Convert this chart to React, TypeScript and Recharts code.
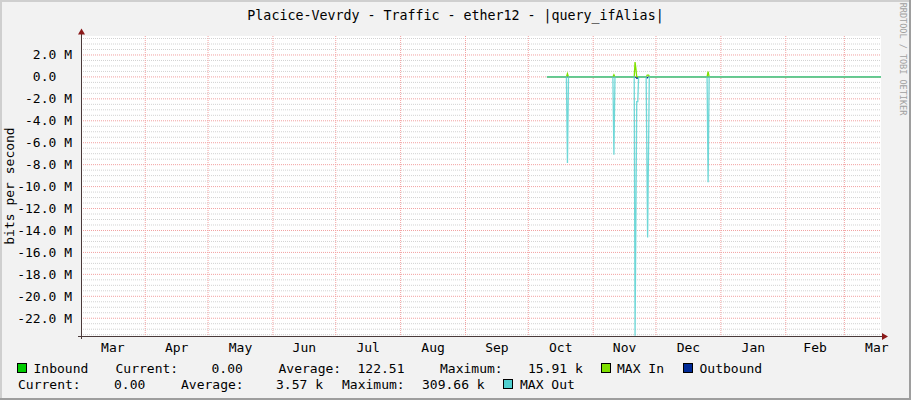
import React from "react";
import { ComposedChart, Line, Area, XAxis, YAxis, CartesianGrid } from "recharts";

const W = 911;
const H = 400;
const PLOT_LEFT = 81;
const PLOT_RIGHT = 881;
const PLOT_TOP = 36;
const PLOT_BOTTOM = 336;
const X_AXIS_H = 20;
const MONO = "'DejaVu Sans Mono', monospace";

// time axis in days, counted from 1 Apr (first red month line)
const MONTH_NAMES = ["Mar", "Apr", "May", "Jun", "Jul", "Aug", "Sep", "Oct", "Nov", "Dec", "Jan", "Feb", "Mar"];
const MONTH_LABEL_DAYS = [-15.5, 15, 45.5, 76, 106.5, 137.5, 168, 198.5, 229, 259.5, 290.5, 320, 349.5];
const MONTH_START_DAYS = [0, 30, 61, 91, 122, 153, 183, 214, 244, 275, 306, 334];
const X_DOMAIN = [-30.7, 351.5];

// bits per second in millions, outbound drawn below zero
const Y_TICKS = [2, 0, -2, -4, -6, -8, -10, -12, -14, -16, -18, -20, -22];
const Y_DOMAIN = [-23.62, 3.73];

const INBOUND_DAYS = [191.9, 351.5];
const INBOUND = [0, 0];

const MAX_IN_DAYS = [191.9, 201.2, 201.7, 202.2, 223.4, 223.9, 224.4, 233.6, 234.0, 234.4, 234.8, 239.4, 239.8, 240.5, 240.9, 268.4, 268.9, 269.4, 351.5];
const MAX_IN = [0, 0, 0.3, 0, 0, 0.2, 0, 0, 1.35, 0.75, 0, 0, 0.17, 0.17, 0, 0, 0.48, 0, 0];

const OUTBOUND_DAYS = [191.9, 234.2, 234.6, 235.3, 235.6, 239.5, 239.8, 240.1, 351.5];
const OUTBOUND = [0, 0, -0.13, -0.13, 0, 0, -0.13, 0, 0];

const MAX_OUT_DAYS = [191.9, 201.2, 201.7, 202.2, 223.4, 223.9, 224.4, 233.6, 234.0, 234.8, 235.3, 235.7, 239.3, 240.0, 240.8, 268.4, 268.9, 269.4, 351.5];
const MAX_OUT = [0, 0, -7.85, 0, 0, -7.1, 0, 0, -23.6, -2.25, -2.25, 0, 0, -14.65, 0, 0, -9.6, 0, 0];

const COLORS = {
  inbound: "#00CC00",
  maxIn: "#7FE000",
  outbound: "#002A97",
  maxOut: "#50D0D0",
};

// minor grid every 0.5 M between the labelled lines
const MINOR_Y: number[] = [];
for (let v = 3.5; v > Y_DOMAIN[0]; v -= 0.5) {
  if (v % 2 !== 0) MINOR_Y.push(v);
}

type Row = { day: number; [k: string]: number };
const rowMap = new Map<number, Row>();
function addSeries(days: number[], vals: number[], key: string) {
  days.forEach((d, i) => {
    const r = rowMap.get(d) ?? { day: d };
    r[key] = vals[i];
    rowMap.set(d, r);
  });
}
addSeries(INBOUND_DAYS, INBOUND, "inbound");
addSeries(MAX_IN_DAYS, MAX_IN, "maxIn");
addSeries(OUTBOUND_DAYS, OUTBOUND, "outbound");
addSeries(MAX_OUT_DAYS, MAX_OUT, "maxOut");
const data = [...rowMap.values()].sort((a, b) => a.day - b.day);

function MonthTick(props: any) {
  const { x, y, index } = props;
  return (
    <text x={x} y={y + 16} textAnchor="middle" fontFamily={MONO} fontSize={13} fill="#000">
      {MONTH_NAMES[index]}
    </text>
  );
}

function BpsTick(props: any) {
  const { x, y, payload } = props;
  const v = payload.value as number;
  const label = v === 0 ? "0.0" : `${v.toFixed(1)} M`;
  return (
    <text x={x - 9 + (v === 0 ? -15.7 : 0)} y={y + 4.5} textAnchor="end" fontFamily={MONO} fontSize={13} fill="#000">
      {label}
    </text>
  );
}

const Swatch = ({ x, y, color }: { x: number; y: number; color: string }) => (
  <rect x={x + 0.5} y={y + 0.5} width={9} height={9} fill={color} stroke="#000" strokeWidth={1} />
);

const legendText = (x: number, y: number, s: string) => (
  <text key={`${x}-${y}`} x={x} y={y} fontFamily={MONO} fontSize={13} fill="#000">
    {s}
  </text>
);

export default function App() {
  return (
    <div style={{ position: "fixed", left: 0, top: 0, width: W, height: H, background: "#F2F2F2" }}>
      <ComposedChart
        width={W}
        height={H}
        data={data}
        margin={{ top: PLOT_TOP, right: W - PLOT_RIGHT, bottom: H - PLOT_BOTTOM - X_AXIS_H, left: 0 }}
      >
        <CartesianGrid
          fill="#FFFFFF"
          stroke="#D2D2D2"
          strokeDasharray="1 1"
          vertical={false}
          horizontalValues={MINOR_Y}
        />
        <CartesianGrid
          fill="none"
          stroke="#F2A0A0"
          strokeDasharray="1 1"
          horizontalValues={Y_TICKS}
          verticalValues={MONTH_START_DAYS}
        />
        <XAxis
          type="number"
          dataKey="day"
          domain={X_DOMAIN}
          ticks={MONTH_LABEL_DAYS}
          interval={0}
          allowDataOverflow
          height={X_AXIS_H}
          tickLine={false}
          axisLine={false}
          tickSize={0}
          tickMargin={0}
          tick={<MonthTick />}
        />
        <YAxis
          type="number"
          domain={Y_DOMAIN}
          ticks={Y_TICKS}
          interval={0}
          allowDataOverflow
          width={PLOT_LEFT}
          tickLine={false}
          axisLine={false}
          tickSize={0}
          tickMargin={0}
          tick={<BpsTick />}
        />
        <Area dataKey="inbound" type="linear" fill={COLORS.inbound} fillOpacity={1} stroke="none" connectNulls isAnimationActive={false} />
        <Line dataKey="maxIn" type="linear" stroke={COLORS.maxIn} strokeWidth={1.3} dot={false} connectNulls isAnimationActive={false} />
        <Area dataKey="outbound" type="linear" fill={COLORS.outbound} fillOpacity={1} stroke={COLORS.outbound} strokeWidth={1} connectNulls isAnimationActive={false} />
        <Line dataKey="maxOut" type="linear" stroke={COLORS.maxOut} strokeOpacity={0.82} strokeWidth={1.3} dot={false} connectNulls isAnimationActive={false} />
      </ComposedChart>

      <svg width={W} height={H} style={{ position: "absolute", left: 0, top: 0, pointerEvents: "none" }}>
        {/* frame shading */}
        <rect x={0} y={0} width={W} height={2} fill="#CFCFCF" />
        <rect x={0} y={0} width={2} height={H} fill="#CFCFCF" />
        <rect x={0} y={H - 2} width={W} height={2} fill="#9E9E9E" />
        <rect x={W - 2} y={0} width={2} height={H} fill="#9E9E9E" />

        <text x={W / 2} y={20} textAnchor="middle" fontFamily={MONO} fontSize={13.3} fill="#000">
          Placice-Vevrdy - Traffic - ether12 - |query_ifAlias|
        </text>
        <text
          x={14}
          y={(PLOT_TOP + PLOT_BOTTOM) / 2}
          transform={`rotate(-90 14 ${(PLOT_TOP + PLOT_BOTTOM) / 2})`}
          textAnchor="middle"
          fontFamily={MONO}
          fontSize={13}
          fill="#000"
        >
          bits per second
        </text>
        <text
          x={900}
          y={59}
          transform="rotate(90 900 59)"
          textAnchor="middle"
          fontFamily={MONO}
          fontSize={8.5}
          fill="#A0A0A0"
        >
          RRDTOOL / TOBI OETIKER
        </text>

        {/* axes with arrows */}
        <line x1={PLOT_LEFT + 0.5} y1={PLOT_BOTTOM + 3} x2={PLOT_LEFT + 0.5} y2={PLOT_TOP - 3} stroke="#4A3A3A" />
        <polygon points={`${PLOT_LEFT - 3},${PLOT_TOP - 1.5} ${PLOT_LEFT + 4},${PLOT_TOP - 1.5} ${PLOT_LEFT + 0.5},${PLOT_TOP - 7.5}`} fill="#8B1A1A" />
        <line x1={PLOT_LEFT - 3} y1={PLOT_BOTTOM + 0.5} x2={PLOT_RIGHT + 2} y2={PLOT_BOTTOM + 0.5} stroke="#4A3A3A" />
        <polygon points={`${PLOT_RIGHT + 1},${PLOT_BOTTOM - 3} ${PLOT_RIGHT + 1},${PLOT_BOTTOM + 4} ${PLOT_RIGHT + 7},${PLOT_BOTTOM + 0.5}`} fill="#8B1A1A" />

        {/* legend, row 1 */}
        <Swatch x={17} y={363} color={COLORS.inbound} />
        {legendText(33.5, 373, "Inbound")}
        {legendText(115.5, 373, "Current:")}
        {legendText(211.5, 373, "0.00")}
        {legendText(278.5, 373, "Average:")}
        {legendText(357.5, 373, "122.51")}
        {legendText(440, 373, "Maximum:")}
        {legendText(528, 373, "15.91 k")}
        <Swatch x={601} y={363} color={COLORS.maxIn} />
        {legendText(617, 373, "MAX In")}
        <Swatch x={683} y={363} color={COLORS.outbound} />
        {legendText(699.5, 373, "Outbound")}

        {/* legend, row 2 */}
        {legendText(18, 389, "Current:")}
        {legendText(114, 389, "0.00")}
        {legendText(181, 389, "Average:")}
        {legendText(276, 389, "3.57 k")}
        {legendText(342, 389, "Maximum:")}
        {legendText(422, 389, "309.66 k")}
        <Swatch x={503} y={379} color={COLORS.maxOut} />
        {legendText(520, 389, "MAX Out")}
      </svg>
    </div>
  );
}
